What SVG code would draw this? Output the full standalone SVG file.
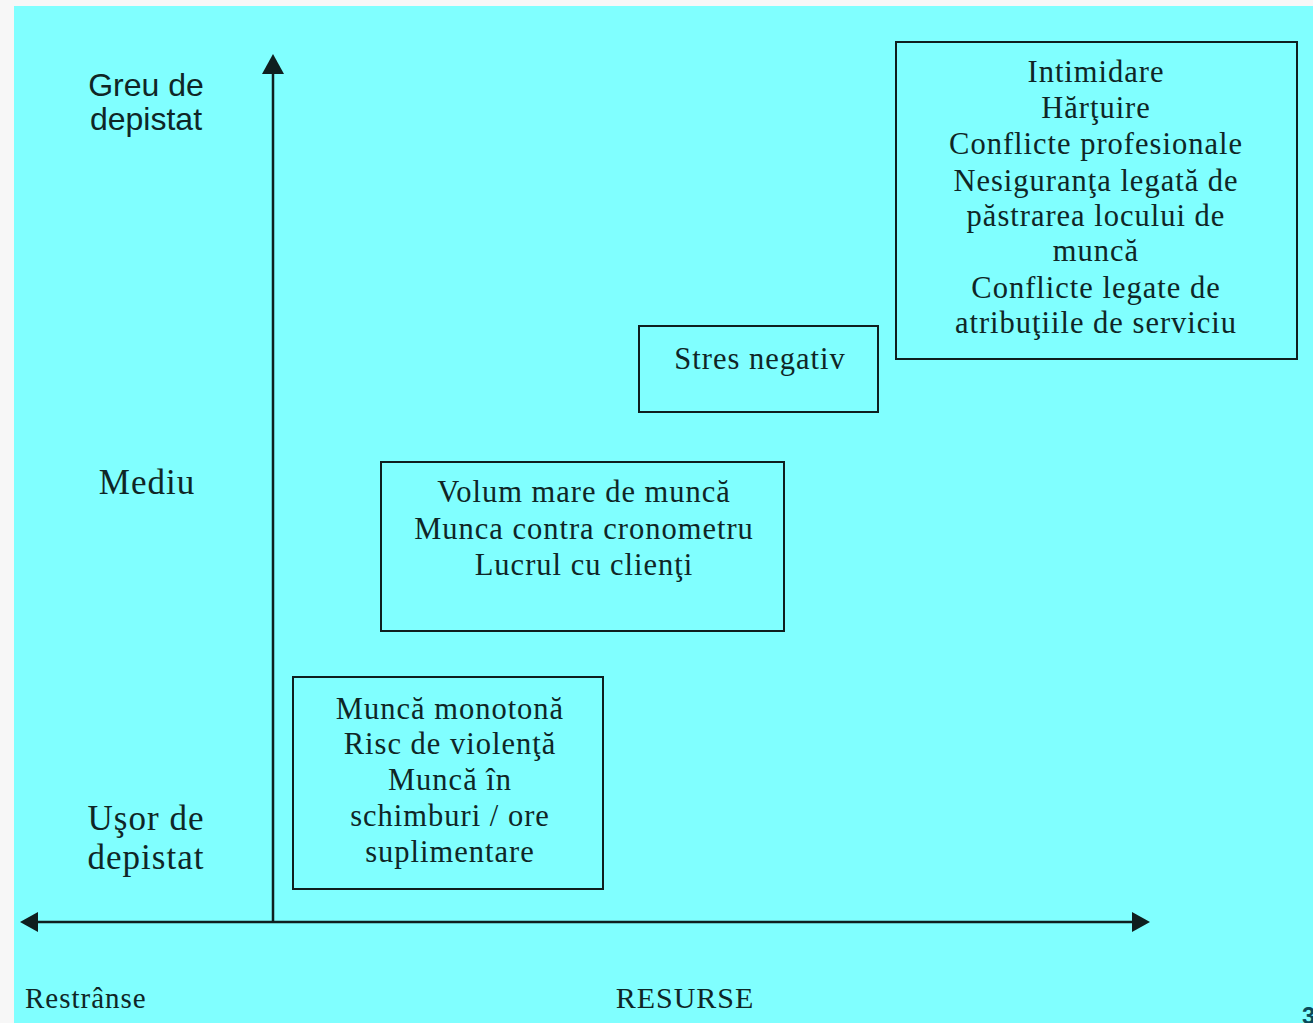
<svg xmlns="http://www.w3.org/2000/svg" width="1313" height="1023" viewBox="0 0 1313 1023">
<style>
.t{font-family:"Liberation Serif","Times New Roman",serif;font-size:30.5px;letter-spacing:1px;fill:#0f2626;text-anchor:middle}
.s{font-family:"Liberation Sans",Arial,sans-serif;font-size:32px;fill:#0f2626;text-anchor:middle}
.box{fill:none;stroke:#0f1f1f;stroke-width:2}
.ax{stroke:#0f1f1f;stroke-width:2.5;fill:none}
</style>
<rect width="1313" height="1023" fill="#f7f7f7"/>
<rect x="14" y="6" width="1299" height="1017" fill="#80ffff"/>
<g id="connectors">
<path d="M273,922 L273,73" class="ax"/>
<path d="M262,74 L273,54 L284,74 z" fill="#0f1f1f"/>
<path d="M38,922 L1132,922" class="ax"/>
<path d="M38,912 L20,922 L38,932 z" fill="#0f1f1f"/>
<path d="M1132,912 L1150,922 L1132,932 z" fill="#0f1f1f"/>
</g>
<g id="label-greu"><text class="s" x="146" y="96">Greu de</text><text class="s" x="146" y="130">depistat</text></g>
<g id="label-mediu"><text class="t" x="147" y="494" style="font-size:35px">Mediu</text></g>
<g id="label-usor"><text class="t" x="146" y="830" style="font-size:35px">Uşor de</text><text class="t" x="146" y="869" style="font-size:35px">depistat</text></g>
<g id="label-restranse"><text class="t" x="25" y="1008" style="text-anchor:start;font-size:29px">Restrânse</text></g>
<g id="label-resurse"><text class="t" x="685" y="1008" style="font-size:30px">RESURSE</text></g>
<g id="page-number"><text x="1302" y="1024" style="font-family:'Liberation Sans',Arial,sans-serif;font-size:24px;font-weight:bold;fill:#0b4a5a">3</text></g>
<g id="box-top">
<rect class="box" x="896" y="42" width="401" height="317"/>
<text class="t" x="1096" y="82">Intimidare</text>
<text class="t" x="1096" y="118">Hărţuire</text>
<text class="t" x="1096" y="154">Conflicte profesionale</text>
<text class="t" x="1096" y="191">Nesiguranţa legată de</text>
<text class="t" x="1096" y="226">păstrarea locului de</text>
<text class="t" x="1096" y="261">muncă</text>
<text class="t" x="1096" y="298">Conflicte legate de</text>
<text class="t" x="1096" y="333">atribuţiile de serviciu</text>
</g>
<g id="box-stres">
<rect class="box" x="639" y="326" width="239" height="86"/>
<text class="t" x="760" y="369">Stres negativ</text>
</g>
<g id="box-volum">
<rect class="box" x="381" y="462" width="403" height="169"/>
<text class="t" x="584" y="502">Volum mare de muncă</text>
<text class="t" x="584" y="539">Munca contra cronometru</text>
<text class="t" x="584" y="575">Lucrul cu clienţi</text>
</g>
<g id="box-monoton">
<rect class="box" x="293" y="677" width="310" height="212"/>
<text class="t" x="450" y="719">Muncă monotonă</text>
<text class="t" x="450" y="754">Risc de violenţă</text>
<text class="t" x="450" y="790">Muncă în</text>
<text class="t" x="450" y="826">schimburi / ore</text>
<text class="t" x="450" y="862">suplimentare</text>
</g>
</svg>
